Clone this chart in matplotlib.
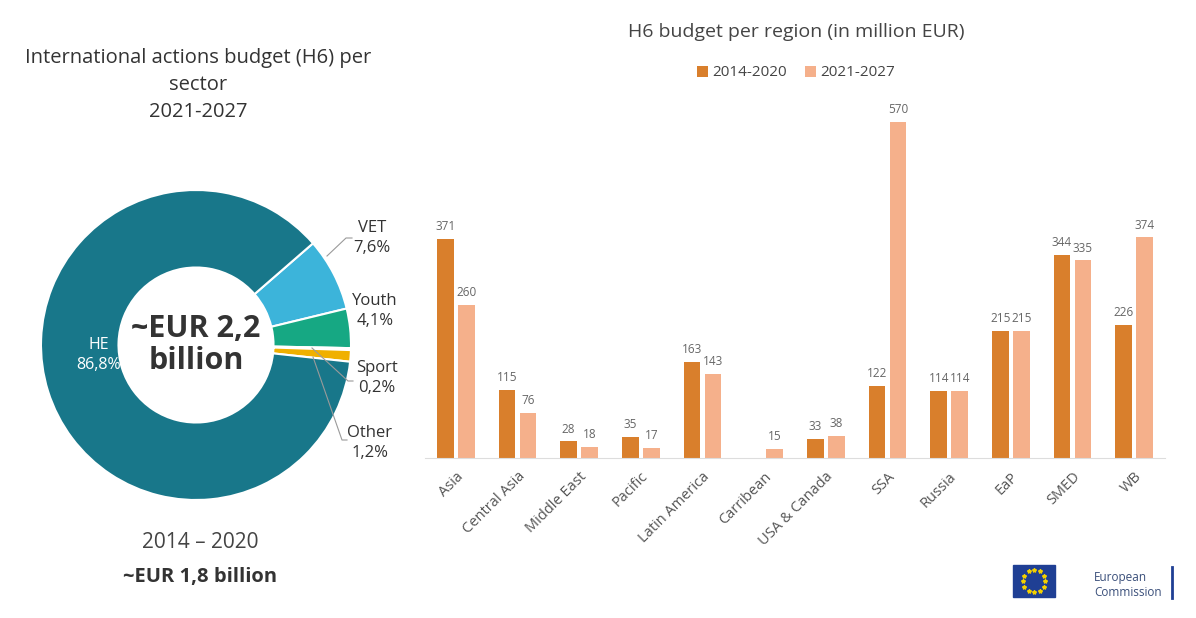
import matplotlib
matplotlib.use("Agg")
import matplotlib.pyplot as plt
import numpy as np
from matplotlib.patches import Rectangle

plt.rcParams['font.family'] = ['Open Sans', 'DejaVu Sans']

# ---- data ----
sectors = ["VET", "Youth", "Sport", "Other", "HE"]
sector_share = [7.6, 4.1, 0.2, 1.2, 86.8]
sector_labels = ["VET\n7,6%", "Youth\n4,1%", "Sport\n0,2%", "Other\n1,2%", "HE\n86,8%"]
sector_colors = ["#3cb4da", "#16a883", "#f4b400", "#f0b000", "#18778a"]

regions = ["Asia", "Central Asia", "Middle East", "Pacific", "Latin America",
           "Carribean", "USA & Canada", "SSA", "Russia", "EaP", "SMED", "WB"]
budget_2014_2020 = [371, 115, 28, 35, 163, np.nan, 33, 122, 114, 215, 344, 226]
budget_2021_2027 = [260, 76, 18, 17, 143, 15, 38, 570, 114, 215, 335, 374]
series_names = ["2014-2020", "2021-2027"]

W, H = 1196, 618
fig = plt.figure(figsize=(W / 100, H / 100), dpi=100)
fig.patch.set_facecolor("white")

def fx(x):
    return x / W

def fy(y):
    return 1 - y / H

# ---- donut ----
cx, cy, r = 196, 345, 155
axd = fig.add_axes([fx(cx - r), fy(cy + r), 2 * r / W, 2 * r / H])
wedges, _ = axd.pie(sector_share, colors=sector_colors, startangle=41,
                    counterclock=False, radius=1.0,
                    wedgeprops=dict(width=0.5, edgecolor="white", linewidth=1.5))
axd.set_aspect("equal")
axd.set_xlim(-1, 1)
axd.set_ylim(-1, 1)
axd.axis("off")

fig.text(fx(cx), fy(cy), "~EUR 2,2\nbillion", ha="center", va="center",
         fontsize=22, fontweight="bold", color="#333333", linespacing=1.1)
fig.text(fx(99), fy(355), sector_labels[4], ha="center", va="center",
         fontsize=11.5, color="white", linespacing=1.3)

label_pos = {0: (372, 238), 1: (375, 311), 2: (377, 378), 3: (370, 443)}
leader = {0: [(327, 256), (346, 238), (352, 238)],
          2: [(312, 348), (348, 381), (353, 381)],
          3: [(313, 357), (342, 440), (347, 440)]}
for i, (lx, ly) in label_pos.items():
    fig.text(fx(lx), fy(ly), sector_labels[i], ha="center", va="center",
             fontsize=12, color="#333333", linespacing=1.3)
for pts in leader.values():
    fig.add_artist(plt.Line2D([fx(p[0]) for p in pts], [fy(p[1]) for p in pts],
                              color="#9a9a9a", lw=0.8))

fig.text(fx(198), fy(85), "International actions budget (H6) per\nsector\n2021-2027",
         ha="center", va="center", fontsize=14.5, color="#333333", linespacing=1.45)
fig.text(fx(200), fy(543), "2014 \u2013 2020", ha="center", va="center",
         fontsize=15, color="#444444")
fig.text(fx(200), fy(577), "~EUR 1,8 billion", ha="center", va="center",
         fontsize=14.5, fontweight="bold", color="#333333")

# ---- bar chart ----
ax = fig.add_axes([fx(425), fy(458), 740 / W, 358 / H])
x = np.arange(len(regions))
bw = 0.27
off = 0.17
c1, c2 = "#d97f2c", "#f5b08b"
b1 = ax.bar(x - off, budget_2014_2020, bw, color=c1, label=series_names[0])
b2 = ax.bar(x + off, budget_2021_2027, bw, color=c2, label=series_names[1])
for xs, vals in ((x - off, budget_2014_2020), (x + off, budget_2021_2027)):
    for xi, v in zip(xs, vals):
        if np.isnan(v):
            continue
        ax.text(xi, v + 10, f"{int(v)}", ha="center", va="bottom",
                fontsize=8.5, color="#666666")
ax.set_xlim(-0.5, len(regions) - 0.5)
ax.set_ylim(0, 607)
ax.set_yticks([])
ax.set_xticks(x)
ax.set_xticklabels(regions, rotation=45, ha="right", rotation_mode="anchor",
                   fontsize=10.5, color="#555555")
ax.tick_params(axis="x", length=0, pad=8)
for s in ("top", "right", "left"):
    ax.spines[s].set_visible(False)
ax.spines["bottom"].set_color("#dddddd")
ax.set_facecolor("none")

fig.text(fx(796), fy(32), "H6 budget per region (in million EUR)", ha="center",
         va="center", fontsize=14, color="#444444")
fig.legend(handles=[b1, b2], labels=series_names, loc="center",
           bbox_to_anchor=(fx(796), fy(73)), ncol=2, frameon=False,
           fontsize=11, handlelength=0.7, handleheight=0.7, handletextpad=0.3,
           columnspacing=1.2, labelcolor="#444444")

# ---- logo ----
fig.add_artist(Rectangle((fx(1013), fy(597)), 42 / W, 32 / H,
                         transform=fig.transFigure, color="#1f3f94"))
ang = np.linspace(0, 2 * np.pi, 13)[:-1]
fig.add_artist(plt.Line2D(fx(1034) + 11 * np.cos(ang) / W,
                          fy(581) + 11 * np.sin(ang) / H, ls="none",
                          marker="*", ms=3, color="#f3d000",
                          transform=fig.transFigure))
fig.text(fx(1094), fy(585), "European\nCommission", ha="left", va="center",
         fontsize=8.5, color="#3a4f7a", linespacing=1.2)
fig.add_artist(plt.Line2D([fx(1172), fx(1172)], [fy(567), fy(598)],
                          color="#1f3f94", lw=2))

fig.savefig("out.png", dpi=100, facecolor="white")
